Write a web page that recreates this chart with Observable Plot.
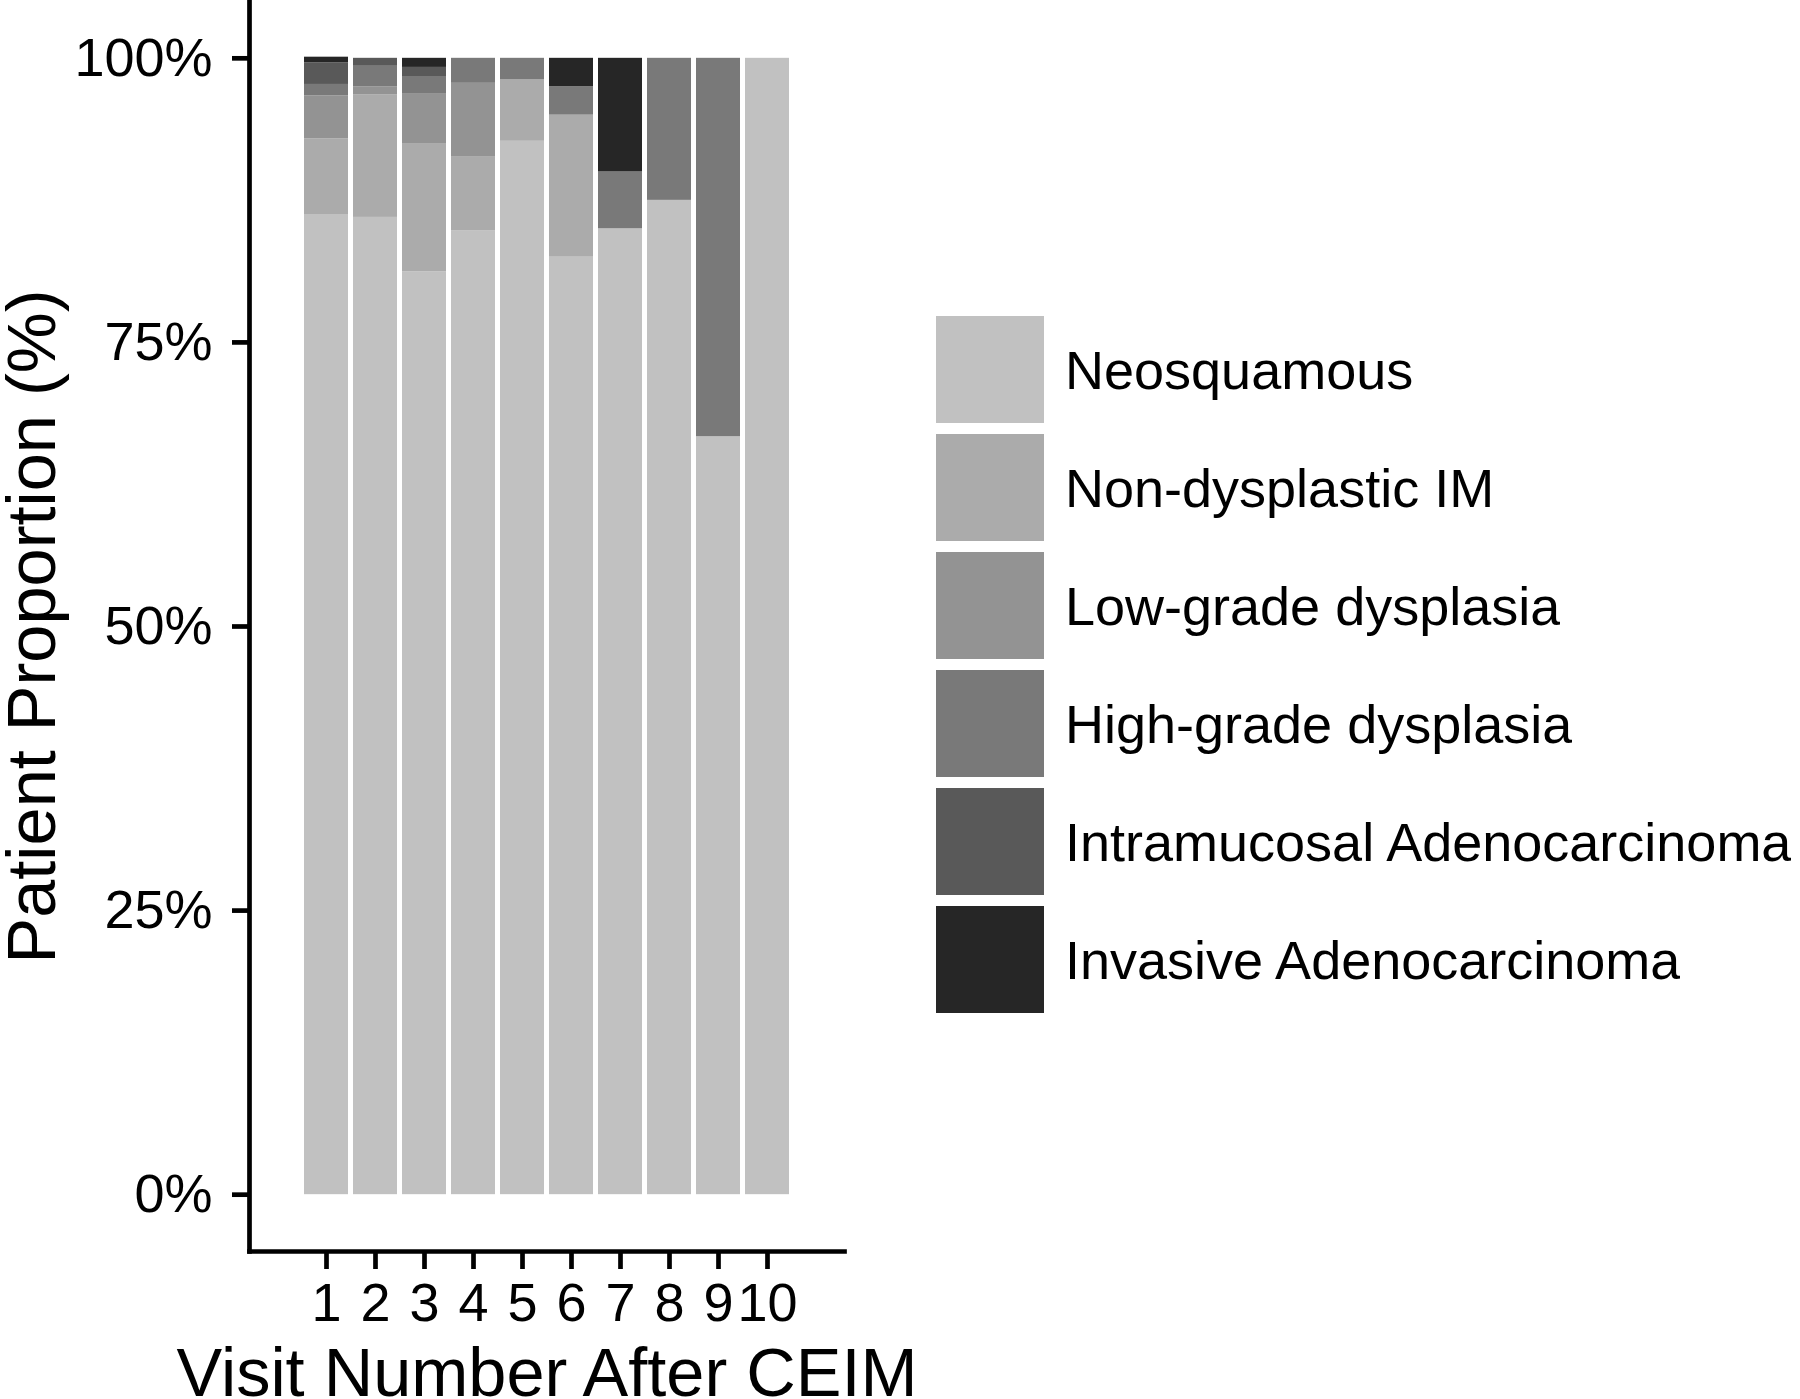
<!DOCTYPE html>
<html>
<head>
<meta charset="utf-8">
<script src="https://cdn.jsdelivr.net/npm/d3@7"></script>
<script src="https://cdn.jsdelivr.net/npm/@observablehq/plot@0.6"></script>
<style>
  html, body { margin: 0; padding: 0; background: white; }
  #wrap { position: relative; width: 1800px; height: 1399px; overflow: hidden; }
  #legend { position: absolute; left: 936px; top: 316px; width: 864px; }
  #legend, #legend * { font-family: "Liberation Sans", Arial, sans-serif !important; font-size: 54px !important; color: black !important; }
  .lg-swatch { margin-bottom: 11px !important; padding-bottom: 0 !important; }
  .lg-swatch > svg { margin-right: 21px !important; }
</style>
</head>
<body>
<div id="wrap">
  <div id="chart"></div>
  <div id="legend"></div>
</div>
<script>
const visits = [1, 2, 3, 4, 5, 6, 7, 8, 9, 10];
const categories = ["Neosquamous", "Non-dysplastic IM", "Low-grade dysplasia", "High-grade dysplasia", "Intramucosal Adenocarcinoma", "Invasive Adenocarcinoma"];
const colors = ["#c1c1c1", "#ababab", "#939393", "#797979", "#595959", "#262626"];

const neosquamous     = [86.2, 86.0, 81.2, 84.8, 92.7, 82.5, 85.0, 87.5, 66.7, 100];
const nonDysplasticIM = [6.7, 10.8, 11.3, 6.5, 5.4, 12.5, 0, 0, 0, 0];
const lowGrade        = [3.8, 0.7, 4.4, 6.5, 0, 0, 0, 0, 0, 0];
const highGrade       = [1.0, 1.8, 1.5, 2.2, 1.9, 2.5, 5.0, 12.5, 33.3, 0];
const intramucosal    = [1.9, 0.7, 0.8, 0, 0, 0, 0, 0, 0, 0];
const invasive        = [0.5, 0, 0.8, 0, 0, 2.5, 10.0, 0, 0, 0];

const yTicks = [0, 25, 50, 75, 100];
const xTitle = "Visit Number After CEIM";
const yTitle = "Patient Proportion (%)";

const series = [neosquamous, nonDysplasticIM, lowGrade, highGrade, intramucosal, invasive];
const table = [];
categories.forEach((c, ci) => {
  visits.forEach((v, vi) => table.push({visit: v, category: c, value: series[ci][vi]}));
});

const font = "Liberation Sans, Arial, sans-serif";
const sw = 4.7;

const chart = Plot.plot({
  width: 1800,
  height: 1399,
  marginLeft: 249,
  marginRight: 956,
  marginTop: 1,
  marginBottom: 148,
  x: {type: "band", domain: visits, paddingInner: 0.1, paddingOuter: 1.1},
  y: {domain: [-5, 105]},
  color: {domain: categories, range: colors},
  style: {fontFamily: font, fontSize: "54px", color: "black", background: "white", overflow: "visible"},
  marks: [
    Plot.barY(table, {x: "visit", y: "value", fill: "category", order: null}),
    Plot.frame({anchor: "left", strokeWidth: sw, stroke: "black"}),
    Plot.frame({anchor: "bottom", strokeWidth: sw, stroke: "black"}),
    Plot.axisY({ticks: yTicks, tickFormat: d => d + "%", tickSize: 17, tickPadding: 20, strokeWidth: sw, fontSize: 54, label: null}),
    Plot.axisX({tickSize: 18, tickPadding: 13, strokeWidth: sw, fontSize: 54, label: null}),
    Plot.text([xTitle], {frameAnchor: "bottom", dy: 96, lineAnchor: "top", textAnchor: "middle", fontSize: 68.5, fill: "black"}),
    Plot.text([yTitle], {frameAnchor: "left", dx: -243, rotate: -90, lineAnchor: "top", textAnchor: "middle", fontSize: 68.5, fill: "black"})
  ]
});
document.getElementById("chart").appendChild(chart);

const legend = Plot.legend({
  color: {type: "ordinal", domain: categories, range: colors},
  legend: "swatches",
  columns: 1,
  swatchWidth: 108,
  swatchHeight: 107,
  className: "lg",
  style: {fontFamily: font, fontSize: "54px", color: "black"}
});
document.getElementById("legend").appendChild(legend);
</script>
</body>
</html>
